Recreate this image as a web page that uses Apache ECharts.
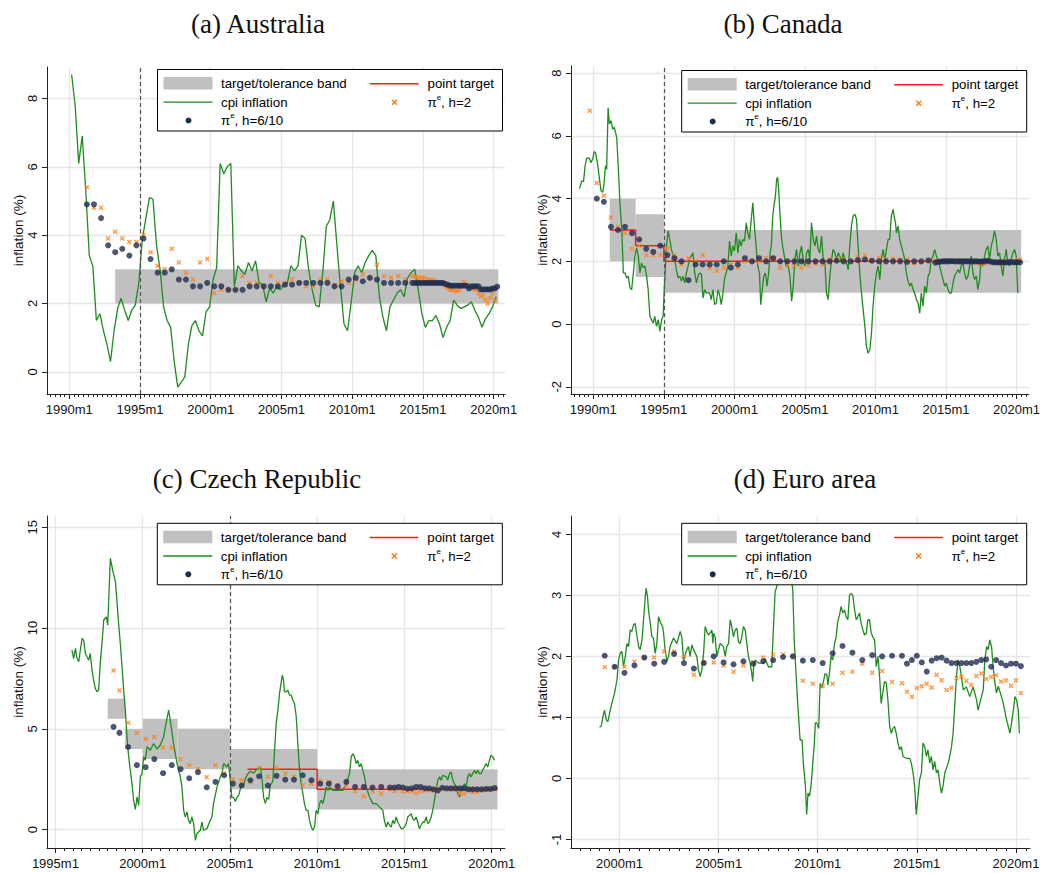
<!DOCTYPE html>
<html><head><meta charset="utf-8">
<script src="https://cdn.jsdelivr.net/npm/echarts@6/dist/echarts.min.js"></script>
<style>html,body{margin:0;padding:0;background:#fff}#c{width:1043px;height:873px}</style>
</head><body><div id="c"></div>
<script>
// ---------------- DATA ----------------
const panelTitles = ['(a) Australia', '(b) Canada', '(c) Czech Republic', '(d) Euro area'];
const legendLabels = ['target/tolerance band', 'point target', 'cpi inflation', 'π^e, h=2', 'π^e, h=6/10'];
const yAxisTitle = 'inflation (%)';

const auXTicks = [1990, 1995, 2000, 2005, 2010, 2015, 2020];
const caXTicks = [1990, 1995, 2000, 2005, 2010, 2015, 2020];
const czXTicks = [1995, 2000, 2005, 2010, 2015, 2020];
const euXTicks = [2000, 2005, 2010, 2015, 2020];
const auYTicks = [0, 2, 4, 6, 8];
const caYTicks = [-2, 0, 2, 4, 6, 8];
const czYTicks = [0, 5, 10, 15];
const euYTicks = [-1, 0, 1, 2, 3, 4];

// regime (inflation-targeting adoption) dates, dashed lines
const auRegime = [1995.0];
const caRegime = [1995.0];
const czRegime = [2005.0];
const euRegime = [];

// bands: [start, end, lower, upper]
const auBands = [[1993.25, 2020.33, 2, 3]];
const caBands = [[1991.17, 1993.0, 2, 4], [1993.0, 1995.0, 1.5, 3.5], [1995.0, 2020.33, 1, 3]];
const czBands = [[1998.0, 1999.0, 5.5, 6.5], [1999.0, 2000.0, 4, 5], [2000.0, 2002.0, 3.5, 5.5], [2002.0, 2005.0, 3, 5], [2005.0, 2010.0, 2, 4], [2010.0, 2020.33, 1, 3]];
const euBands = [];

// point targets: [start, end, value]
const auTarget = [];
const caTarget = [[1991.17, 1993.0, 3], [1993.0, 1995.0, 2.5], [1995.0, 2020.33, 2]];
const czTarget = [[2006.0, 2010.0, 3], [2010.0, 2020.33, 2]];
const euTarget = [];

// cpi inflation [date, value]
const auCpi = [[1990.17,8.7],[1990.42,7.8],[1990.67,6.1],[1990.92,6.9],[1991.17,5.3],[1991.42,3.4],[1991.67,3.1],[1991.92,1.5],[1992.17,1.7],[1992.42,1.2],[1992.67,0.8],[1992.92,0.3],[1993.17,1.2],[1993.42,1.85],[1993.67,2.15],[1993.92,1.8],[1994.17,1.5],[1994.42,1.8],[1994.67,1.95],[1994.92,2.6],[1995.17,3.9],[1995.42,4.5],[1995.67,5.1],[1995.92,5.05],[1996.17,3.7],[1996.42,3.0],[1996.67,1.9],[1996.92,1.5],[1997.17,1.3],[1997.42,0.3],[1997.67,-0.45],[1997.92,-0.3],[1998.17,-0.15],[1998.42,0.8],[1998.67,1.35],[1998.92,1.5],[1999.17,1.2],[1999.42,1.05],[1999.67,1.75],[1999.92,1.9],[2000.17,2.7],[2000.42,3.05],[2000.67,6.1],[2000.92,5.8],[2001.17,6.0],[2001.42,6.1],[2001.67,2.5],[2001.92,3.1],[2002.17,2.95],[2002.42,2.85],[2002.67,3.2],[2002.92,2.95],[2003.17,3.25],[2003.42,2.6],[2003.67,2.55],[2003.92,2.05],[2004.17,2.45],[2004.42,2.3],[2004.67,2.5],[2004.92,2.4],[2005.17,2.55],[2005.42,2.6],[2005.67,3.1],[2005.92,2.95],[2006.17,3.1],[2006.42,4.0],[2006.67,3.9],[2006.92,3.0],[2007.17,2.4],[2007.42,1.95],[2007.67,1.9],[2007.92,2.9],[2008.17,4.25],[2008.42,4.45],[2008.67,5.0],[2008.92,3.7],[2009.17,2.5],[2009.42,1.4],[2009.67,1.2],[2009.92,2.0],[2010.17,2.9],[2010.42,3.1],[2010.67,2.9],[2010.92,3.2],[2011.17,3.4],[2011.42,3.55],[2011.67,3.4],[2011.92,2.2],[2012.17,1.6],[2012.42,1.2],[2012.67,1.9],[2012.92,2.1],[2013.17,2.3],[2013.42,2.4],[2013.67,2.2],[2013.92,2.75],[2014.17,2.9],[2014.42,3.0],[2014.67,2.4],[2014.92,1.7],[2015.17,1.3],[2015.42,1.5],[2015.67,1.5],[2015.92,1.65],[2016.17,1.4],[2016.42,1.0],[2016.67,1.3],[2016.92,1.5],[2017.17,2.1],[2017.42,1.95],[2017.67,1.85],[2017.92,1.9],[2018.17,1.95],[2018.42,2.05],[2018.67,1.8],[2018.92,1.6],[2019.17,1.3],[2019.42,1.55],[2019.67,1.7],[2019.92,1.9],[2020.17,2.2]];
const auDots = [[1991.25,4.9],[1991.75,4.9],[1992.25,4.5],[1992.75,3.7],[1993.25,3.5],[1993.75,3.6],[1994.25,3.4],[1994.75,3.7],[1995.25,3.9],[1995.75,3.3],[1996.25,2.9],[1996.75,2.9],[1997.25,3.0],[1997.75,2.7],[1998.25,2.7],[1998.75,2.5],[1999.25,2.5],[1999.75,2.6],[2000.25,2.5],[2000.75,2.5],[2001.25,2.4],[2001.75,2.4],[2002.25,2.4],[2002.75,2.5],[2003.25,2.5],[2003.75,2.5],[2004.25,2.5],[2004.75,2.5],[2005.25,2.55],[2005.75,2.55],[2006.25,2.6],[2006.75,2.6],[2007.25,2.6],[2007.75,2.6],[2008.25,2.6],[2008.75,2.5],[2009.25,2.5],[2009.75,2.7],[2010.25,2.75],[2010.75,2.65],[2011.25,2.75],[2011.75,2.7],[2012.25,2.6],[2012.75,2.6],[2013.25,2.6],[2013.75,2.6],[2014.25,2.6],[2014.42,2.6],[2014.58,2.6],[2014.75,2.6],[2014.92,2.6],[2015.08,2.6],[2015.25,2.6],[2015.42,2.6],[2015.58,2.6],[2015.75,2.6],[2015.92,2.6],[2016.08,2.6],[2016.25,2.6],[2016.42,2.6],[2016.58,2.57],[2016.75,2.55],[2016.92,2.52],[2017.08,2.52],[2017.25,2.52],[2017.42,2.52],[2017.58,2.52],[2017.75,2.52],[2017.92,2.52],[2018.08,2.52],[2018.25,2.44],[2018.42,2.5],[2018.58,2.5],[2018.75,2.5],[2018.92,2.5],[2019.08,2.41],[2019.25,2.41],[2019.42,2.41],[2019.58,2.41],[2019.75,2.41],[2019.92,2.44],[2020.08,2.44],[2020.25,2.49]];
const auCross = [[1991.25,5.4],[1991.75,4.8],[1992.25,4.8],[1992.75,3.9],[1993.25,4.1],[1993.75,3.9],[1994.25,3.8],[1994.75,3.8],[1995.25,4.0],[1995.75,3.5],[1996.25,3.1],[1996.75,3.0],[1997.25,3.6],[1997.75,3.2],[1998.25,2.9],[1998.75,2.7],[1999.25,3.2],[1999.75,3.3],[2000.25,2.3],[2000.75,2.4],[2001.25,2.4],[2001.75,2.4],[2002.25,2.8],[2002.75,2.6],[2003.25,2.6],[2003.75,2.5],[2004.25,2.8],[2004.75,2.6],[2005.25,2.6],[2005.75,2.7],[2006.25,2.6],[2006.75,2.5],[2007.25,2.5],[2007.75,2.7],[2008.25,2.7],[2008.75,2.55],[2009.25,2.65],[2009.75,2.6],[2010.25,2.7],[2010.75,2.85],[2011.25,2.75],[2011.75,3.15],[2012.25,2.8],[2012.75,2.75],[2013.25,2.8],[2013.75,2.7],[2014.25,2.8],[2014.42,2.78],[2014.58,2.75],[2014.75,2.75],[2014.92,2.75],[2015.08,2.75],[2015.25,2.7],[2015.42,2.7],[2015.58,2.68],[2015.75,2.68],[2015.92,2.65],[2016.08,2.6],[2016.25,2.6],[2016.42,2.58],[2016.58,2.5],[2016.75,2.45],[2016.92,2.4],[2017.08,2.39],[2017.25,2.38],[2017.42,2.36],[2017.58,2.4],[2017.75,2.5],[2017.92,2.63],[2018.08,2.55],[2018.25,2.5],[2018.42,2.45],[2018.58,2.42],[2018.75,2.4],[2018.92,2.3],[2019.08,2.2],[2019.25,2.24],[2019.42,2.1],[2019.58,2.0],[2019.75,2.15],[2019.92,2.29],[2020.08,2.1]];

const caCpi = [[1989.02,4.32],[1989.19,4.57],[1989.31,4.55],[1989.42,5.05],[1989.54,5.3],[1989.73,5.28],[1989.82,5.15],[1989.96,5.26],[1990.06,5.5],[1990.15,5.47],[1990.29,5.15],[1990.44,4.62],[1990.55,4.25],[1990.67,4.2],[1990.76,4.46],[1990.86,5.05],[1990.95,4.94],[1991.05,6.9],[1991.14,6.38],[1991.26,6.49],[1991.38,6.22],[1991.49,6.27],[1991.66,5.95],[1991.78,4.94],[1991.89,3.82],[1992.01,3.13],[1992.13,1.63],[1992.25,1.63],[1992.36,1.47],[1992.48,1.53],[1992.6,1.15],[1992.72,1.1],[1992.84,1.63],[1992.95,2.17],[1993.07,2.43],[1993.19,2.17],[1993.31,1.63],[1993.42,1.95],[1993.54,1.8],[1993.66,1.85],[1993.78,1.53],[1993.89,1.1],[1994.01,0.25],[1994.13,0.14],[1994.25,0.03],[1994.36,0.25],[1994.48,-0.07],[1994.6,0.14],[1994.72,-0.23],[1994.84,0.14],[1994.95,0.25],[1995.02,1.0],[1995.19,2.49],[1995.31,2.97],[1995.42,2.7],[1995.54,2.38],[1995.66,2.17],[1995.78,2.06],[1995.89,1.74],[1996.01,1.47],[1996.13,1.53],[1996.25,1.37],[1996.36,1.53],[1996.48,1.31],[1996.6,1.63],[1996.72,1.85],[1996.84,2.11],[1996.95,2.17],[1997.07,2.27],[1997.19,1.63],[1997.31,1.31],[1997.42,1.53],[1997.54,1.63],[1997.66,1.6],[1997.78,0.83],[1997.89,1.1],[1998.01,0.99],[1998.13,1.0],[1998.25,0.99],[1998.36,0.78],[1998.48,1.1],[1998.6,0.62],[1998.72,0.67],[1998.84,1.1],[1998.95,0.94],[1999.07,0.62],[1999.19,0.99],[1999.31,1.47],[1999.42,1.63],[1999.54,1.85],[1999.66,2.65],[1999.78,2.17],[1999.89,2.49],[2000.01,2.33],[2000.13,2.91],[2000.25,2.27],[2000.36,2.7],[2000.48,2.49],[2000.6,2.7],[2000.72,2.65],[2000.84,3.23],[2000.95,2.91],[2001.07,2.7],[2001.19,3.29],[2001.31,3.87],[2001.42,3.13],[2001.54,2.49],[2001.66,1.85],[2001.78,1.63],[2001.87,0.62],[2001.96,0.99],[2002.08,1.53],[2002.2,1.63],[2002.32,1.21],[2002.43,1.63],[2002.53,2.27],[2002.62,2.49],[2002.72,3.45],[2002.81,3.77],[2002.91,4.09],[2003.0,4.62],[2003.07,4.68],[2003.14,4.3],[2003.24,3.45],[2003.33,2.81],[2003.42,2.49],[2003.54,2.17],[2003.66,1.85],[2003.82,1.85],[2003.94,1.53],[2004.06,0.73],[2004.17,1.21],[2004.29,2.06],[2004.41,2.38],[2004.53,1.85],[2004.65,2.27],[2004.76,2.49],[2004.88,2.06],[2005.0,1.85],[2005.12,2.27],[2005.24,2.38],[2005.35,2.06],[2005.47,3.23],[2005.59,2.7],[2005.71,2.49],[2005.83,2.81],[2005.94,2.38],[2006.06,2.27],[2006.18,2.81],[2006.3,2.06],[2006.42,1.95],[2006.53,0.99],[2006.65,0.78],[2006.77,1.53],[2006.89,2.06],[2007.0,2.38],[2007.12,2.27],[2007.24,2.06],[2007.36,2.27],[2007.48,2.17],[2007.59,1.95],[2007.71,2.27],[2007.83,2.06],[2007.95,1.95],[2008.07,1.74],[2008.18,2.49],[2008.3,3.13],[2008.42,3.45],[2008.54,3.5],[2008.66,3.34],[2008.77,2.49],[2008.89,1.63],[2009.01,0.99],[2009.13,0.46],[2009.25,-0.07],[2009.36,-0.71],[2009.48,-0.93],[2009.6,-0.82],[2009.72,-0.29],[2009.83,0.57],[2009.95,1.21],[2010.07,1.63],[2010.19,1.85],[2010.31,1.42],[2010.42,2.06],[2010.54,2.38],[2010.66,2.06],[2010.78,2.38],[2010.9,2.7],[2011.01,2.7],[2011.13,3.45],[2011.25,3.66],[2011.32,3.45],[2011.42,3.23],[2011.49,2.91],[2011.6,3.13],[2011.72,2.7],[2011.84,2.49],[2011.96,2.27],[2012.08,2.06],[2012.19,1.63],[2012.31,1.37],[2012.43,1.21],[2012.55,1.31],[2012.67,1.1],[2012.78,0.99],[2012.9,0.78],[2013.02,0.67],[2013.14,0.35],[2013.25,0.99],[2013.37,0.57],[2013.49,1.21],[2013.61,0.99],[2013.73,1.53],[2013.84,1.63],[2013.96,2.06],[2014.08,2.17],[2014.2,2.38],[2014.32,2.17],[2014.43,2.06],[2014.55,1.85],[2014.67,1.63],[2014.79,1.42],[2014.91,1.21],[2015.02,1.31],[2015.14,1.1],[2015.26,0.99],[2015.38,0.99],[2015.5,1.31],[2015.61,1.53],[2015.73,1.63],[2015.85,1.74],[2015.97,1.63],[2016.08,1.85],[2016.2,1.95],[2016.32,1.63],[2016.44,1.42],[2016.56,1.53],[2016.67,1.85],[2016.79,2.17],[2016.91,1.63],[2017.03,1.42],[2017.15,1.53],[2017.26,1.1],[2017.38,1.42],[2017.5,2.06],[2017.62,1.85],[2017.74,2.17],[2017.85,2.38],[2017.97,2.49],[2018.09,2.06],[2018.21,2.49],[2018.33,2.7],[2018.44,2.97],[2018.56,2.7],[2018.68,2.17],[2018.8,2.27],[2018.92,1.85],[2019.03,1.53],[2019.15,2.06],[2019.27,2.38],[2019.39,1.95],[2019.5,1.85],[2019.62,2.06],[2019.74,2.27],[2019.86,2.38],[2019.98,2.17],[2020.09,0.99]];
const caDots = [[1990.25,4.0],[1990.75,3.9],[1991.25,3.1],[1991.75,3.0],[1992.25,3.1],[1992.75,2.9],[1993.25,2.7],[1993.75,2.4],[1994.25,2.3],[1994.75,2.5],[1995.25,2.2],[1995.75,2.1],[1996.25,2.0],[1996.75,1.4],[1997.25,1.9],[1997.75,1.9],[1998.25,1.9],[1998.75,1.9],[1999.25,2.0],[1999.75,1.8],[2000.25,1.9],[2000.75,2.1],[2001.25,2.0],[2001.75,2.1],[2002.25,2.0],[2002.75,2.1],[2003.25,2.0],[2003.75,2.0],[2004.25,2.0],[2004.75,2.0],[2005.25,2.0],[2005.75,2.0],[2006.25,2.0],[2006.75,2.0],[2007.25,2.02],[2007.75,2.0],[2008.25,2.0],[2008.75,2.04],[2009.25,2.06],[2009.75,2.02],[2010.25,2.0],[2010.75,2.0],[2011.25,2.0],[2011.75,2.0],[2012.25,1.98],[2012.75,2.0],[2013.25,2.0],[2013.75,2.03],[2014.25,1.96],[2014.42,1.98],[2014.58,1.99],[2014.75,2.0],[2014.92,2.0],[2015.08,2.0],[2015.25,2.0],[2015.42,2.01],[2015.58,2.0],[2015.75,2.0],[2015.92,2.0],[2016.08,2.0],[2016.25,2.0],[2016.42,2.0],[2016.58,2.0],[2016.75,2.0],[2016.92,2.0],[2017.08,2.0],[2017.25,2.0],[2017.42,1.99],[2017.58,2.0],[2017.75,2.0],[2017.92,2.02],[2018.08,2.0],[2018.25,1.98],[2018.42,1.97],[2018.58,1.97],[2018.75,1.97],[2018.92,1.97],[2019.08,1.97],[2019.25,1.97],[2019.42,1.97],[2019.58,1.98],[2019.75,1.97],[2019.92,1.97],[2020.08,1.97],[2020.25,1.97]];
const caCross = [[1989.75,6.8],[1990.25,4.5],[1990.75,4.1],[1991.25,3.4],[1991.75,3.1],[1992.25,2.9],[1992.75,2.4],[1993.25,2.5],[1993.75,2.2],[1994.25,2.2],[1994.75,2.2],[1995.25,2.4],[1995.75,2.2],[1996.25,1.9],[1996.75,2.1],[1997.25,2.0],[1997.75,2.2],[1998.25,1.8],[1998.75,1.7],[1999.25,1.8],[1999.75,1.9],[2000.25,1.8],[2000.75,2.0],[2001.25,2.0],[2001.75,2.0],[2002.25,2.1],[2002.75,2.1],[2003.25,1.8],[2003.75,1.9],[2004.25,1.85],[2004.75,1.8],[2005.25,1.87],[2005.75,1.93],[2006.25,1.9],[2006.75,2.06],[2007.25,2.08],[2007.75,2.06],[2008.25,2.0],[2008.75,2.14],[2009.25,2.19],[2009.75,2.04],[2010.25,2.12],[2010.75,2.06],[2011.25,2.08],[2011.75,2.06],[2012.25,2.06],[2012.75,1.95],[2013.25,2.0],[2013.75,2.0],[2014.25,2.02],[2014.42,2.0],[2014.58,2.0],[2014.75,2.02],[2014.92,2.03],[2015.08,2.03],[2015.25,2.02],[2015.42,2.0],[2015.58,2.0],[2015.75,1.98],[2015.92,2.0],[2016.08,2.02],[2016.25,2.0],[2016.42,2.0],[2016.58,2.02],[2016.75,2.0],[2016.92,1.98],[2017.08,1.97],[2017.25,1.98],[2017.42,1.92],[2017.58,1.93],[2017.75,1.95],[2017.92,2.0],[2018.08,2.02],[2018.25,2.0],[2018.42,1.98],[2018.58,1.97],[2018.75,1.95],[2018.92,1.93],[2019.08,1.97],[2019.25,2.0],[2019.42,1.97],[2019.58,2.0],[2019.75,1.97],[2019.92,1.99],[2020.08,2.04],[2020.25,2.05]];

const czCpi = [[1995.95,8.91],[1996.05,8.49],[1996.15,8.99],[1996.24,8.49],[1996.34,8.33],[1996.43,8.91],[1996.53,9.49],[1996.62,9.4],[1996.72,8.74],[1996.81,8.58],[1996.91,8.41],[1997.0,8.74],[1997.1,7.91],[1997.19,7.42],[1997.29,7.0],[1997.38,6.84],[1997.48,6.92],[1997.57,8.25],[1997.67,9.24],[1997.77,10.4],[1997.92,10.56],[1998.0,10.15],[1998.15,13.46],[1998.3,12.8],[1998.44,12.3],[1998.53,11.31],[1998.63,10.15],[1998.72,9.24],[1998.82,8.08],[1998.91,6.92],[1999.01,5.93],[1999.1,4.6],[1999.2,3.61],[1999.29,2.95],[1999.39,2.28],[1999.48,1.46],[1999.58,1.0],[1999.68,1.62],[1999.77,1.2],[1999.87,2.62],[1999.96,2.78],[2000.06,3.61],[2000.15,3.44],[2000.25,4.11],[2000.44,3.94],[2000.63,4.27],[2000.82,4.0],[2001.01,4.2],[2001.2,4.6],[2001.3,5.1],[2001.49,5.93],[2001.58,5.43],[2001.77,4.27],[2001.97,3.28],[2002.16,2.62],[2002.25,2.12],[2002.35,0.96],[2002.44,0.63],[2002.54,0.88],[2002.63,0.46],[2002.73,0.3],[2002.82,0.63],[2002.92,0.3],[2003.02,-0.53],[2003.11,-0.2],[2003.3,-0.03],[2003.4,0.38],[2003.49,-0.03],[2003.68,0.05],[2003.87,0.46],[2003.97,0.63],[2004.06,1.29],[2004.26,2.12],[2004.45,2.62],[2004.54,2.78],[2004.64,3.28],[2004.83,3.11],[2004.92,3.28],[2005.02,2.45],[2005.11,1.6],[2005.21,1.6],[2005.31,1.4],[2005.4,1.6],[2005.5,1.7],[2005.59,2.0],[2005.69,2.3],[2005.78,2.2],[2005.88,2.5],[2005.97,2.7],[2006.16,2.9],[2006.36,2.8],[2006.55,3.0],[2006.74,3.1],[2006.83,2.6],[2006.93,1.6],[2007.03,1.3],[2007.12,1.6],[2007.22,1.5],[2007.31,2.2],[2007.46,2.4],[2007.56,3.94],[2007.65,5.26],[2007.75,5.93],[2007.84,6.75],[2008.0,7.67],[2008.07,7.42],[2008.13,6.84],[2008.23,6.84],[2008.32,6.92],[2008.42,6.67],[2008.51,6.67],[2008.61,6.42],[2008.7,6.26],[2008.8,5.6],[2008.89,4.27],[2008.99,2.95],[2009.08,2.28],[2009.18,1.79],[2009.27,1.29],[2009.37,0.96],[2009.47,0.96],[2009.56,0.46],[2009.66,0.13],[2009.75,-0.03],[2009.85,0.13],[2009.94,0.96],[2010.04,0.79],[2010.13,1.29],[2010.23,1.46],[2010.32,1.29],[2010.42,1.62],[2010.52,2.12],[2010.61,1.95],[2010.71,2.12],[2010.9,1.95],[2011.09,1.95],[2011.28,1.95],[2011.47,1.95],[2011.66,2.28],[2011.85,2.78],[2011.95,3.61],[2012.04,3.77],[2012.14,3.61],[2012.23,3.28],[2012.33,3.44],[2012.42,3.11],[2012.52,3.28],[2012.61,2.95],[2012.71,2.62],[2012.81,2.12],[2013.0,1.62],[2013.19,1.29],[2013.38,1.29],[2013.57,1.13],[2013.76,0.96],[2013.85,0.46],[2013.95,0.13],[2014.05,0.38],[2014.14,0.22],[2014.24,0.13],[2014.33,0.46],[2014.43,0.3],[2014.52,0.63],[2014.62,0.38],[2014.71,0.22],[2014.81,0.05],[2014.9,0.05],[2015.0,0.13],[2015.1,0.3],[2015.19,0.63],[2015.29,0.71],[2015.38,0.79],[2015.48,0.55],[2015.57,0.46],[2015.67,0.63],[2015.76,0.38],[2015.86,0.05],[2015.95,0.22],[2016.05,0.38],[2016.15,0.38],[2016.24,0.63],[2016.34,0.3],[2016.43,0.38],[2016.53,0.63],[2016.62,0.96],[2016.72,1.46],[2016.81,1.95],[2016.91,2.45],[2017.01,2.62],[2017.1,2.45],[2017.19,2.7],[2017.39,2.62],[2017.48,2.45],[2017.58,2.78],[2017.67,2.86],[2017.77,2.45],[2017.86,2.28],[2017.96,2.12],[2018.05,1.79],[2018.15,1.62],[2018.24,1.95],[2018.34,2.12],[2018.44,2.28],[2018.53,2.12],[2018.63,2.62],[2018.72,2.78],[2018.82,2.62],[2018.91,2.78],[2019.01,2.95],[2019.1,2.78],[2019.2,2.95],[2019.29,2.78],[2019.39,2.78],[2019.48,2.95],[2019.58,3.11],[2019.67,3.28],[2019.77,3.11],[2019.87,3.44],[2019.96,3.69],[2020.06,3.61],[2020.15,3.44]];
const czDots = [[1998.33,5.1],[1998.67,4.8],[1999.17,4.1],[1999.67,3.2],[2000.17,3.1],[2000.67,3.5],[2001.17,2.8],[2001.67,3.2],[2002.17,3.0],[2002.67,2.55],[2003.17,2.85],[2003.67,2.1],[2004.17,2.37],[2004.67,2.7],[2005.17,2.28],[2005.67,2.19],[2006.17,2.45],[2006.67,2.65],[2007.17,2.19],[2007.67,2.67],[2008.17,2.48],[2008.67,2.48],[2009.17,2.7],[2009.67,2.45],[2010.17,2.28],[2010.67,2.28],[2011.17,2.15],[2011.67,2.37],[2012.17,2.12],[2012.67,2.12],[2013.17,2.09],[2013.67,2.12],[2014.17,2.09],[2014.42,2.09],[2014.67,2.12],[2014.92,2.09],[2015.17,2.03],[2015.42,2.05],[2015.67,2.12],[2015.92,2.12],[2016.17,2.05],[2016.42,2.05],[2016.67,2.0],[2016.92,1.95],[2017.17,2.08],[2017.42,2.05],[2017.67,2.05],[2017.92,2.05],[2018.17,2.05],[2018.42,2.05],[2018.67,2.0],[2018.92,2.0],[2019.17,2.0],[2019.42,2.0],[2019.67,2.02],[2019.92,2.02],[2020.17,2.07]];
const czCross = [[1998.33,7.9],[1998.67,6.9],[1999.17,5.3],[1999.67,4.8],[2000.17,4.5],[2000.67,4.6],[2001.17,4.07],[2001.67,4.07],[2002.17,3.5],[2002.67,3.2],[2003.17,3.0],[2003.67,2.6],[2004.17,3.2],[2004.67,2.8],[2005.17,2.5],[2005.67,2.45],[2006.17,2.37],[2006.67,3.06],[2007.17,2.62],[2007.67,3.06],[2008.17,2.78],[2008.67,2.62],[2009.17,2.2],[2009.67,2.28],[2010.17,2.42],[2010.67,2.37],[2011.17,2.2],[2011.67,2.2],[2012.17,1.9],[2012.67,1.66],[2013.17,1.9],[2013.67,1.79],[2014.17,2.02],[2014.42,1.9],[2014.67,2.0],[2014.92,1.9],[2015.17,1.9],[2015.42,1.9],[2015.67,1.82],[2015.92,1.9],[2016.17,1.95],[2016.42,1.95],[2016.67,1.99],[2016.92,2.02],[2017.17,1.99],[2017.42,2.02],[2017.67,1.99],[2017.92,1.99],[2018.17,1.79],[2018.42,1.79],[2018.67,1.95],[2018.92,1.87],[2019.17,1.87],[2019.42,1.95],[2019.67,1.99],[2019.92,1.99],[2020.17,1.99]];

const euCpi = [[1998.99,0.84],[1999.08,0.86],[1999.16,1.01],[1999.24,1.12],[1999.33,0.96],[1999.41,0.93],[1999.5,1.07],[1999.61,1.23],[1999.75,1.4],[1999.87,1.61],[1999.95,1.94],[2000.03,2.05],[2000.12,2.08],[2000.2,1.83],[2000.29,2.0],[2000.37,2.21],[2000.45,2.16],[2000.54,2.43],[2000.62,2.41],[2000.71,2.52],[2000.79,2.54],[2000.87,2.35],[2000.96,2.16],[2001.04,2.11],[2001.13,2.27],[2001.21,2.6],[2001.29,2.95],[2001.34,3.12],[2001.41,2.98],[2001.46,2.76],[2001.55,2.54],[2001.63,2.32],[2001.71,2.3],[2001.8,2.05],[2001.88,2.21],[2001.97,2.65],[2002.08,2.54],[2002.17,2.49],[2002.22,2.38],[2002.3,2.11],[2002.39,1.91],[2002.47,2.0],[2002.55,2.16],[2002.72,2.3],[2002.89,2.21],[2002.97,2.3],[2003.06,2.41],[2003.14,2.32],[2003.23,1.94],[2003.39,2.11],[2003.48,2.16],[2003.56,2.0],[2003.65,2.19],[2003.73,2.11],[2003.9,2.0],[2003.98,1.78],[2004.07,1.67],[2004.15,1.78],[2004.24,2.05],[2004.32,2.49],[2004.4,2.41],[2004.49,2.35],[2004.66,2.43],[2004.71,2.21],[2004.74,2.38],[2004.82,2.32],[2004.91,2.0],[2004.99,2.11],[2005.08,2.21],[2005.24,2.16],[2005.33,2.0],[2005.41,2.16],[2005.5,2.21],[2005.58,2.6],[2005.66,2.49],[2005.75,2.32],[2005.83,2.43],[2005.92,2.46],[2006.0,2.24],[2006.08,2.21],[2006.17,2.32],[2006.25,2.49],[2006.34,2.43],[2006.42,2.21],[2006.5,2.0],[2006.59,1.89],[2006.67,1.72],[2006.72,1.59],[2006.76,1.81],[2006.84,1.94],[2007.01,1.89],[2007.26,1.89],[2007.34,1.97],[2007.51,1.83],[2007.68,1.83],[2007.76,2.43],[2007.85,3.06],[2007.93,3.14],[2008.02,3.25],[2008.15,3.4],[2008.3,3.6],[2008.45,4.0],[2008.55,3.9],[2008.62,3.6],[2008.65,3.31],[2008.74,3.09],[2008.82,2.21],[2008.99,1.23],[2009.11,0.63],[2009.21,0.63],[2009.27,0.25],[2009.38,-0.13],[2009.44,-0.59],[2009.51,-0.24],[2009.58,-0.29],[2009.66,-0.13],[2009.75,0.25],[2009.83,0.58],[2009.88,0.91],[2009.95,0.91],[2010.05,0.82],[2010.12,1.56],[2010.2,1.48],[2010.29,1.59],[2010.37,1.72],[2010.46,1.7],[2010.51,1.53],[2010.59,1.72],[2010.67,2.0],[2010.76,1.94],[2010.84,2.19],[2010.93,2.32],[2011.01,2.57],[2011.1,2.68],[2011.18,2.82],[2011.26,2.71],[2011.35,2.76],[2011.43,2.65],[2011.52,2.6],[2011.6,3.0],[2011.69,3.03],[2011.77,3.0],[2011.86,2.76],[2011.94,2.6],[2012.02,2.65],[2012.11,2.71],[2012.19,2.54],[2012.28,2.43],[2012.36,2.35],[2012.45,2.38],[2012.53,2.6],[2012.61,2.6],[2012.7,2.38],[2012.78,2.32],[2012.87,2.27],[2012.95,1.83],[2013.04,2.0],[2013.12,1.67],[2013.2,1.23],[2013.29,1.42],[2013.37,1.59],[2013.46,1.56],[2013.54,1.29],[2013.63,0.85],[2013.71,0.74],[2013.79,0.82],[2013.88,0.85],[2013.96,0.74],[2014.05,0.58],[2014.13,0.47],[2014.22,0.52],[2014.3,0.36],[2014.47,0.33],[2014.64,0.33],[2014.72,0.25],[2014.81,0.09],[2014.89,-0.13],[2014.97,-0.59],[2015.06,-0.29],[2015.14,-0.02],[2015.23,0.09],[2015.31,0.58],[2015.4,0.52],[2015.48,0.36],[2015.56,0.47],[2015.65,0.25],[2015.73,0.36],[2015.82,0.14],[2015.9,0.28],[2015.99,0.09],[2016.07,0.14],[2016.16,-0.08],[2016.24,-0.24],[2016.32,-0.13],[2016.41,0.09],[2016.58,0.25],[2016.66,0.36],[2016.75,0.52],[2016.83,0.74],[2016.91,1.18],[2017.0,1.67],[2017.08,1.94],[2017.17,1.83],[2017.25,1.67],[2017.34,1.45],[2017.5,1.5],[2017.67,1.34],[2017.84,1.5],[2018.01,1.29],[2018.09,1.12],[2018.26,1.34],[2018.35,1.45],[2018.43,1.94],[2018.52,2.16],[2018.6,2.11],[2018.68,2.27],[2018.77,2.16],[2018.85,1.83],[2018.94,1.56],[2019.02,1.4],[2019.11,1.51],[2019.27,1.34],[2019.36,1.23],[2019.53,0.96],[2019.7,0.74],[2019.78,0.91],[2019.87,1.12],[2019.95,1.34],[2020.03,1.29],[2020.12,1.12],[2020.17,0.74]];
const euDots = [[1999.25,2.01],[1999.75,1.83],[2000.25,1.73],[2000.75,1.85],[2001.25,1.98],[2001.75,1.88],[2002.25,1.91],[2002.75,2.04],[2003.25,1.89],[2003.75,1.8],[2004.25,1.89],[2004.75,2.0],[2005.25,1.9],[2005.75,1.87],[2006.25,1.92],[2006.75,1.88],[2007.25,1.92],[2007.75,1.94],[2008.25,1.99],[2008.75,2.0],[2009.25,1.93],[2009.75,1.94],[2010.25,1.89],[2010.75,2.05],[2011.25,2.17],[2011.75,2.06],[2012.25,1.94],[2012.75,2.02],[2013.25,2.0],[2013.75,2.01],[2014.25,2.01],[2014.5,1.88],[2014.75,1.94],[2015.0,2.01],[2015.25,1.9],[2015.5,1.75],[2015.75,1.93],[2016.0,1.97],[2016.25,1.98],[2016.5,1.93],[2016.75,1.89],[2017.0,1.89],[2017.25,1.89],[2017.5,1.89],[2017.75,1.89],[2018.0,1.91],[2018.25,1.94],[2018.5,1.95],[2018.75,1.83],[2019.0,1.94],[2019.25,1.89],[2019.5,1.85],[2019.75,1.88],[2020.0,1.88],[2020.25,1.84]];
const euCross = [[1999.25,1.82],[1999.75,1.82],[2000.25,1.83],[2000.75,1.91],[2001.25,1.98],[2001.75,1.98],[2002.25,2.08],[2002.75,2.08],[2003.25,2.0],[2003.75,1.7],[2004.25,1.9],[2004.75,1.9],[2005.25,1.85],[2005.75,1.75],[2006.25,1.85],[2006.75,1.9],[2007.25,1.98],[2007.75,2.03],[2008.25,2.03],[2008.75,2.0],[2009.25,1.6],[2009.75,1.55],[2010.25,1.51],[2010.75,1.55],[2011.25,1.73],[2011.75,1.75],[2012.25,1.88],[2012.75,1.73],[2013.25,1.76],[2013.75,1.58],[2014.25,1.56],[2014.5,1.42],[2014.75,1.34],[2015.0,1.48],[2015.25,1.51],[2015.5,1.55],[2015.75,1.49],[2016.0,1.7],[2016.25,1.61],[2016.5,1.45],[2016.75,1.48],[2017.0,1.64],[2017.25,1.67],[2017.5,1.6],[2017.75,1.53],[2018.0,1.68],[2018.25,1.72],[2018.5,1.63],[2018.75,1.66],[2019.0,1.69],[2019.25,1.59],[2019.5,1.61],[2019.75,1.52],[2020.0,1.61],[2020.25,1.4]];

// ---------------- LAYOUT / STYLE ----------------
const C = {band:'#c0c0c0', target:'#ff1a1a', cpi:'#1e8c1e', cross:'#ff7f1a', dot:'#1f2d50', grid:'#e6e6e6', axis:'#222', text:'#111'};
const SANS = '"Liberation Sans", Arial, sans-serif';
const SERIF = '"Liberation Serif", "Times New Roman", serif';
const layout = [
  {grid:{left:47, top:67, width:458, height:327}, x:[1988.43,2020.8], y:[-0.65,8.92], title:[258,24], legend:[157.5,69.5], minorStart:1988+2/3, minorStep:1/3},
  {grid:{left:571, top:66, width:460, height:328}, x:[1988.42,2020.88], y:[-2.23,8.23], title:[783,24], legend:[681.7,70.5], minorStart:1988+2/3, minorStep:1/3},
  {grid:{left:47, top:516, width:458, height:332}, x:[1994.52,2020.76], y:[-0.91,15.56], title:[257,479], legend:[157.3,523.3], minorStart:1995, minorStep:0.5},
  {grid:{left:571, top:516, width:459, height:332}, x:[1997.55,2020.71], y:[-1.14,4.3], title:[805,479], legend:[681.7,523.3], minorStart:1998, minorStep:0.5}
];
const panels = [
  {xt:auXTicks, yt:auYTicks, cpi:auCpi, dots:auDots, cross:auCross, bands:auBands, target:auTarget, regime:auRegime},
  {xt:caXTicks, yt:caYTicks, cpi:caCpi, dots:caDots, cross:caCross, bands:caBands, target:caTarget, regime:caRegime},
  {xt:czXTicks, yt:czYTicks, cpi:czCpi, dots:czDots, cross:czCross, bands:czBands, target:czTarget, regime:czRegime},
  {xt:euXTicks, yt:euYTicks, cpi:euCpi, dots:euDots, cross:euCross, bands:euBands, target:euTarget, regime:euRegime}
];
const CROSS = 'path://M0,2L2,0L5,3L8,0L10,2L7,5L10,8L8,10L5,7L2,10L0,8L3,5Z';

function minorTicks(L) {
  const out = [];
  for (let k = 0; ; k++) { const v = L.minorStart + k * L.minorStep; if (v > L.x[1]) break; if (v >= L.x[0]) out.push(+v.toFixed(4)); }
  return out;
}

const grids = [], xAxes = [], yAxes = [], series = [], graphics = [];
panels.forEach((P, i) => {
  const L = layout[i];
  grids.push(L.grid);
  xAxes.push({
    type:'value', gridIndex:i, min:L.x[0], max:L.x[1], position:'bottom',
    axisLine:{show:true, onZero:false, lineStyle:{color:C.axis, width:1}},
    axisTick:{show:true, length:5, customValues:P.xt, lineStyle:{color:C.axis}},
    axisLabel:{customValues:P.xt, formatter:v => v + 'm1', margin:9, fontSize:13, fontFamily:SANS, color:C.text},
    splitLine:{show:true, lineStyle:{color:C.grid, width:1.3}}
  });
  xAxes.push({
    type:'value', gridIndex:i, min:L.x[0], max:L.x[1], position:'bottom',
    axisLine:{show:false, onZero:false},
    axisTick:{show:true, length:3, customValues:minorTicks(L), lineStyle:{color:C.axis}},
    axisLabel:{show:false}, splitLine:{show:false}
  });
  yAxes.push({
    type:'value', gridIndex:i, min:L.y[0], max:L.y[1], position:'left',
    name:yAxisTitle, nameLocation:'middle', nameGap:22,
    nameTextStyle:{fontSize:13.5, fontFamily:SANS, color:C.text},
    axisLine:{show:true, onZero:false, lineStyle:{color:C.axis, width:1}},
    axisTick:{show:true, length:5, customValues:P.yt, lineStyle:{color:C.axis}},
    axisLabel:{customValues:P.yt, rotate:90, margin:8, fontSize:13, fontFamily:SANS, color:C.text},
    splitLine:{show:true, lineStyle:{color:C.grid, width:1.3}}
  });
  const xi = 2 * i, yi = i;
  series.push({
    type:'custom', xAxisIndex:xi, yAxisIndex:yi, z:1, silent:true,
    data:P.bands, encode:{x:[0,1], y:[2,3]},
    renderItem:(params, api) => {
      const p1 = api.coord([api.value(0), api.value(3)]);
      const p2 = api.coord([api.value(1), api.value(2)]);
      return {type:'rect', shape:{x:p1[0], y:p1[1], width:p2[0]-p1[0], height:p2[1]-p1[1]}, style:{fill:C.band}};
    }
  });
  const tdata = [];
  P.target.forEach(s => { tdata.push([s[0], s[2]]); tdata.push([s[1], s[2]]); });
  series.push({type:'line', xAxisIndex:xi, yAxisIndex:yi, z:3, silent:true, data:tdata, showSymbol:false, symbol:'none', lineStyle:{color:C.target, width:1.5}});
  series.push({
    type:'line', xAxisIndex:xi, yAxisIndex:yi, z:4, silent:true, data:P.cpi, showSymbol:false, symbol:'none',
    lineStyle:{color:C.cpi, width:1.3},
    markLine:{silent:true, symbol:['none','none'], label:{show:false}, lineStyle:{type:[4,3], color:'#555', width:1.2},
      data:P.regime.map(d => ({xAxis:d}))}
  });
  series.push({type:'scatter', xAxisIndex:xi, yAxisIndex:yi, z:5, silent:true, data:P.cross, symbol:CROSS, symbolSize:5, itemStyle:{color:C.cross}});
  series.push({type:'scatter', xAxisIndex:xi, yAxisIndex:yi, z:6, silent:true, data:P.dots, symbol:'circle', symbolSize:6, itemStyle:{color:C.dot}});

  // title
  graphics.push({type:'text', x:L.title[0], y:L.title[1], z:100,
    style:{text:panelTitles[i], font:'27px ' + SERIF, textAlign:'center', textVerticalAlign:'middle', fill:'#111'}});
  // legend
  const lx = L.legend[0], ly = L.legend[1];
  const rows = [ly + 14.3, ly + 32.7, ly + 51];
  const c1 = lx + 63.5, c2 = lx + 270;
  const txt = (x, y, s) => {
    const m = s.match(/^π\^e(.*)$/);
    const style = m
      ? {text:'{p|π}{s|e}{p|' + m[1] + '}', x:0, y:0, textAlign:'left', textVerticalAlign:'middle',
         rich:{p:{fontSize:13.3, fontFamily:SANS, fill:'#000'}, s:{fontSize:8, fontFamily:SANS, fill:'#000', padding:[0,0,10,0]}}}
      : {text:s, font:'13.3px ' + SANS, textAlign:'left', textVerticalAlign:'middle', fill:'#000'};
    return {type:'text', x:x, y:y, z:102, style:style};
  };
  graphics.push({type:'rect', z:100, shape:{x:lx, y:ly, width:345, height:61.5}, style:{fill:'#fff', stroke:'#000', lineWidth:1}});
  graphics.push({type:'rect', z:101, shape:{x:lx+6, y:ly+7.5, width:49, height:12.5}, style:{fill:C.band}});
  graphics.push(txt(c1, rows[0], legendLabels[0]));
  graphics.push({type:'line', z:101, shape:{x1:lx+212.5, y1:rows[0], x2:lx+261, y2:rows[0]}, style:{stroke:C.target, lineWidth:1.5}});
  graphics.push(txt(c2, rows[0], legendLabels[1]));
  graphics.push({type:'line', z:101, shape:{x1:lx+234.5, y1:rows[1]-2.5, x2:lx+239.5, y2:rows[1]+2.5}, style:{stroke:C.cross, lineWidth:1.6}});
  graphics.push({type:'line', z:101, shape:{x1:lx+234.5, y1:rows[1]+2.5, x2:lx+239.5, y2:rows[1]-2.5}, style:{stroke:C.cross, lineWidth:1.6}});
  graphics.push(txt(c2, rows[1], legendLabels[3]));
  graphics.push({type:'line', z:101, shape:{x1:lx+6, y1:rows[1], x2:lx+55, y2:rows[1]}, style:{stroke:C.cpi, lineWidth:1.3}});
  graphics.push(txt(c1, rows[1], legendLabels[2]));
  graphics.push({type:'circle', z:101, shape:{cx:lx+31, cy:rows[2], r:3}, style:{fill:C.dot}});
  graphics.push(txt(c1, rows[2], legendLabels[4]));
});

const chart = echarts.init(document.getElementById('c'), null, {renderer:'svg'});
chart.setOption({
  animation:false, backgroundColor:'#fff',
  textStyle:{fontFamily:SANS},
  grid:grids, xAxis:xAxes, yAxis:yAxes, series:series, graphic:{elements:graphics}
});
</script>
</body></html>
